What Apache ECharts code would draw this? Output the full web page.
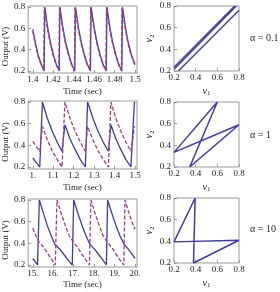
<!DOCTYPE html>
<html><head><meta charset="utf-8">
<script src="https://cdn.jsdelivr.net/npm/echarts@6/dist/echarts.min.js"></script>
<style>html,body{margin:0;padding:0;background:#fff}#c{width:280px;height:292px}</style>
</head><body><div id="c"></div>
<script>
// ---------- data ----------
// Panel 1: alpha = 0.1, time 1.4 .. 1.5 s
const p1Ticks = [1.4, 1.42, 1.44, 1.46, 1.48, 1.5];
const p1Labels = ['1.4', '1.42', '1.44', '1.46', '1.48', '1.5'];
const p1Blue = [[1.4,0.59],[1.4028,0.45],[1.4056,0.34],[1.4084,0.26],[1.4111,0.2],
  [1.4117,0.8],[1.4145,0.61],[1.4174,0.46],[1.4202,0.35],[1.4231,0.26],[1.4259,0.2],
  [1.4265,0.8],[1.4294,0.61],[1.4323,0.46],[1.4353,0.35],[1.4382,0.26],[1.4411,0.2],
  [1.4417,0.8],[1.4446,0.61],[1.4476,0.46],[1.4505,0.35],[1.4535,0.26],[1.4564,0.2],
  [1.457,0.8],[1.46,0.61],[1.463,0.46],[1.4659,0.35],[1.4689,0.26],[1.4719,0.2],
  [1.4725,0.8],[1.4754,0.61],[1.4783,0.46],[1.4813,0.35],[1.4842,0.26],[1.4871,0.2],
  [1.4877,0.8],[1.4906,0.61],[1.4935,0.46],[1.4965,0.35],[1.5,0.26]];
const p1Purple = [[1.4,0.57],[1.4027,0.44],[1.4054,0.33],[1.4081,0.26],[1.4107,0.21],
  [1.4113,0.8],[1.4141,0.61],[1.417,0.46],[1.4198,0.35],[1.4227,0.26],[1.4255,0.21],
  [1.4261,0.8],[1.429,0.61],[1.4319,0.46],[1.4349,0.35],[1.4378,0.26],[1.4407,0.21],
  [1.4413,0.8],[1.4442,0.61],[1.4472,0.46],[1.4501,0.35],[1.4531,0.26],[1.456,0.21],
  [1.4566,0.8],[1.4596,0.61],[1.4626,0.46],[1.4655,0.35],[1.4685,0.26],[1.4715,0.21],
  [1.4721,0.8],[1.475,0.61],[1.4779,0.46],[1.4809,0.35],[1.4838,0.26],[1.4867,0.21],
  [1.4873,0.8],[1.4902,0.61],[1.4931,0.46],[1.4961,0.35],[1.5,0.25]];
// Panel 2: alpha = 1, time 1.0 .. 1.5 s
const p2Ticks = [1.0, 1.1, 1.2, 1.3, 1.4, 1.5];
const p2Labels = ['1.', '1.1', '1.2', '1.3', '1.4', '1.5'];
const p2Blue = [[1.0,0.283],[1.017,0.24],[1.034,0.2],[1.047,0.8],[1.071,0.65],[1.095,0.53],
  [1.119,0.43],[1.143,0.345],[1.157,0.59],[1.182,0.46],[1.207,0.36],[1.232,0.27],[1.257,0.2],
  [1.268,0.8],[1.294,0.65],[1.319,0.53],[1.344,0.43],[1.37,0.345],[1.382,0.59],[1.406,0.46],
  [1.431,0.36],[1.455,0.27],[1.48,0.2],[1.497,0.8],[1.5,0.79]];
const p2Purple = [[1.0,0.437],[1.017,0.39],[1.034,0.345],[1.047,0.575],[1.071,0.45],[1.095,0.35],
  [1.119,0.27],[1.143,0.2],[1.157,0.8],[1.182,0.65],[1.207,0.53],[1.232,0.43],[1.257,0.345],
  [1.268,0.575],[1.294,0.45],[1.319,0.35],[1.344,0.27],[1.37,0.2],[1.382,0.8],[1.406,0.65],
  [1.431,0.53],[1.455,0.43],[1.48,0.345],[1.497,0.575],[1.5,0.57]];
// Panel 3: alpha = 10, time 15 .. 20 s
const p3Ticks = [15, 16, 17, 18, 19, 20];
const p3Labels = ['15.', '16.', '17.', '18.', '19.', '20.'];
const p3Blue = [[15,0.26],[15.12,0.23],[15.23,0.2],[15.32,0.8],[15.5,0.69],[15.7,0.57],[15.9,0.47],
  [16.08,0.39],[16.15,0.405],[16.35,0.34],[16.55,0.29],[16.75,0.24],[16.93,0.2],[17.0,0.8],
  [17.2,0.68],[17.4,0.57],[17.6,0.47],[17.8,0.39],[17.87,0.405],[18.05,0.34],[18.25,0.29],
  [18.45,0.24],[18.6,0.2],[18.66,0.8],[18.86,0.68],[19.06,0.57],[19.26,0.47],[19.47,0.39],
  [19.53,0.405],[19.7,0.34],[19.85,0.3],[20,0.26]];
const p3Purple = [[15,0.54],[15.15,0.47],[15.3,0.415],[15.37,0.425],[15.55,0.36],[15.75,0.3],
  [15.95,0.245],[16.1,0.2],[16.18,0.8],[16.38,0.68],[16.58,0.57],[16.78,0.47],[16.97,0.415],
  [17.03,0.425],[17.2,0.36],[17.4,0.3],[17.6,0.245],[17.77,0.2],[17.84,0.8],[18.04,0.68],
  [18.24,0.57],[18.44,0.47],[18.63,0.415],[18.69,0.425],[18.87,0.36],[19.07,0.3],[19.27,0.245],
  [19.45,0.2],[19.51,0.8],[19.7,0.68],[19.85,0.6],[20,0.53]];
// shared value ticks
const vTicks = [0.2, 0.4, 0.6, 0.8];
const vLabels = ['0.2', '0.4', '0.6', '0.8'];
// Phase portraits (v1, v2)
const phaseA01 = [[0.2,0.235],[0.76,0.8]];
const phaseB01 = [[0.205,0.22],[0.775,0.8]];
const phaseC01 = [[0.24,0.2],[0.8,0.76]];
const phase1 = [[0.8,0.59],[0.345,0.2],[0.6,0.8],[0.2,0.335],[0.8,0.59]];
const phase10 = [[0.2,0.395],[0.395,0.8],[0.38,0.2],[0.8,0.41],[0.2,0.395]];
const alphaLabels = ['α = 0.1', 'α = 1', 'α = 10'];

// ---------- styling ----------
const FONT = 'Liberation Serif';
const BLUE = '#3d3d99';
const PURPLE = '#99407a';
const FRAME = '#999999';
const TXT = '#222';

function fmt(ticks, labels) {
  return function (v) {
    const i = ticks.findIndex(t => Math.abs(t - v) < 1e-9);
    return i >= 0 ? labels[i] : '';
  };
}
function xAxis(grid, min, max, ticks, labels, name, gap, rich) {
  return {
    type: 'value', gridIndex: grid, min: min, max: max,
    axisLine: { show: false }, splitLine: { show: false },
    axisTick: { show: true, inside: true, length: 3, customValues: ticks, lineStyle: { color: FRAME } },
    axisLabel: { customValues: ticks, formatter: fmt(ticks, labels), margin: 2,
      fontFamily: FONT, fontSize: 9, color: TXT, hideOverlap: false, showMinLabel: true, showMaxLabel: true },
    name: name, nameLocation: 'middle', nameGap: gap,
    nameTextStyle: rich ? { rich: rich, color: TXT } : { fontFamily: FONT, fontSize: 9, color: TXT }
  };
}
function yAxis(grid, min, max, name, gap, rich, pad) {
  return {
    type: 'value', gridIndex: grid, min: min, max: max,
    axisLine: { show: false }, splitLine: { show: false },
    axisTick: { show: true, inside: true, length: 3, customValues: vTicks, lineStyle: { color: FRAME } },
    axisLabel: { customValues: vTicks, formatter: fmt(vTicks, vLabels), margin: 3,
      fontFamily: FONT, fontSize: 9, color: TXT, showMinLabel: true, showMaxLabel: true },
    name: name, nameLocation: 'middle', nameGap: gap, nameRotate: 90,
    nameTextStyle: rich ? { rich: rich, color: TXT, padding: pad || 0 } :
      { fontFamily: FONT, fontSize: 9, color: TXT, padding: pad || 0 }
  };
}
const vRich = {
  i: { fontFamily: FONT, fontStyle: 'italic', fontSize: 10, color: TXT, verticalAlign: 'top', lineHeight: 11 },
  s: { fontFamily: FONT, fontSize: 7, color: TXT, verticalAlign: 'bottom', lineHeight: 7, padding: [5, 0, 0, 0] }
};
function line(xi, data, color, dashed, w) {
  return { type: 'line', xAxisIndex: xi, yAxisIndex: xi, data: data, symbol: 'none',
    animation: false, silent: true,
    lineStyle: { color: color, width: w || 1.3, type: dashed ? [4, 2] : 'solid' } };
}
const gridBase = { show: true, borderColor: FRAME, borderWidth: 1, backgroundColor: 'transparent' };
const LX = 27, LW = 110, RX = 174, RW = 65;

const option = {
  backgroundColor: '#fff',
  animation: false,
  grid: [
    Object.assign({ left: LX, top: 6, width: LW, height: 67 }, gridBase),
    Object.assign({ left: RX, top: 6, width: RW, height: 65 }, gridBase),
    Object.assign({ left: LX, top: 101, width: LW, height: 68 }, gridBase),
    Object.assign({ left: RX, top: 102, width: RW, height: 65 }, gridBase),
    Object.assign({ left: LX, top: 199, width: LW, height: 68 }, gridBase),
    Object.assign({ left: RX, top: 198, width: RW, height: 65 }, gridBase)
  ],
  xAxis: [
    xAxis(0, 1.39545, 1.50194, p1Ticks, p1Labels, 'Time (sec)', 14),
    xAxis(1, 0.2, 0.8, vTicks, vLabels, '{i|v}{s|1}', 15, vRich),
    xAxis(2, 0.97725, 1.50968, p2Ticks, p2Labels, 'Time (sec)', 14),
    xAxis(3, 0.2, 0.8, vTicks, vLabels, '{i|v}{s|1}', 15, vRich),
    xAxis(4, 14.7725, 20.0968, p3Ticks, p3Labels, 'Time (sec)', 13),
    xAxis(5, 0.2, 0.8, vTicks, vLabels, '{i|v}{s|1}', 15, vRich)
  ],
  yAxis: [
    yAxis(0, 0.18125, 0.8094, 'Output (V)', 17, null, [0, 14, 0, 0]),
    yAxis(1, 0.2, 0.8, '{i|v}{s|2}', 12, vRich),
    yAxis(2, 0.1815, 0.8092, 'Output (V)', 17, null, [0, 14, 0, 0]),
    yAxis(3, 0.2, 0.8, '{i|v}{s|2}', 12, vRich),
    yAxis(4, 0.1815, 0.8092, 'Output (V)', 17, null, [0, 14, 0, 0]),
    yAxis(5, 0.2, 0.8, '{i|v}{s|2}', 12, vRich)
  ],
  series: [
    line(0, p1Blue, BLUE, false),
    line(0, p1Purple, PURPLE, true),
    line(1, phaseA01, BLUE, false, 1.4),
    line(1, phaseB01, BLUE, false, 1.4),
    line(1, phaseC01, BLUE, false, 1.4),
    line(2, p2Blue, BLUE, false),
    line(2, p2Purple, PURPLE, true),
    line(3, phase1, BLUE, false, 1.5),
    line(4, p3Blue, BLUE, false),
    line(4, p3Purple, PURPLE, true),
    line(5, phase10, BLUE, false, 1.5)
  ],
  graphic: [
    { type: 'text', left: 250, top: 33, style: { text: alphaLabels[0], font: '10px "Liberation Serif"', fill: TXT } },
    { type: 'text', left: 250, top: 130, style: { text: alphaLabels[1], font: '10px "Liberation Serif"', fill: TXT } },
    { type: 'text', left: 250, top: 224, style: { text: alphaLabels[2], font: '10px "Liberation Serif"', fill: TXT } }
  ]
};
const chart = echarts.init(document.getElementById('c'), null, { renderer: 'canvas' });
chart.setOption(option);
</script></body></html>
